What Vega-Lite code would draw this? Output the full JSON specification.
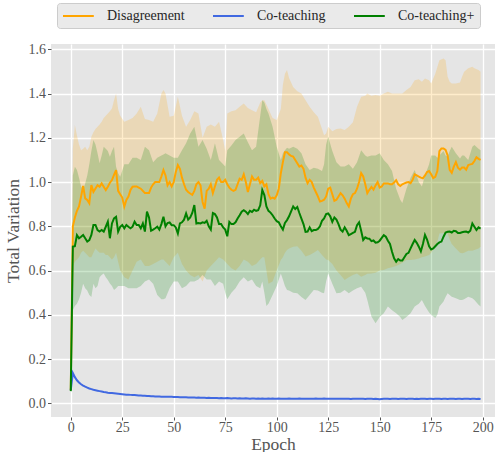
{
"$schema": "https://vega.github.io/schema/vega-lite/v6.json",
"width": 444, "height": 373,
"autosize": {"type": "none"},
"padding": {"left": 51, "top": 44, "right": 3, "bottom": 35},
"background": "#FFFFFF",
"config": {
 "view": {"fill": "#E5E5E5", "stroke": null},
 "axis": {"labelFont": "Liberation Serif", "labelFontSize": 14, "labelColor": "#555555", "titleFont": "Liberation Serif", "titleFontSize": 17.5, "titleFontWeight": "normal", "titleColor": "#555555", "gridColor": "#FFFFFF", "gridWidth": 1.3, "domain": false, "tickColor": "#555555", "tickSize": 3.5, "tickWidth": 1, "labelPadding": 2},
 "legend": {"orient": "none", "legendX": 6, "legendY": -41, "direction": "horizontal", "title": null, "symbolType": "M-2.2,0H2.2", "symbolSize": 196, "symbolStrokeWidth": 2, "symbolOffset": 8.4, "labelOffset": 20.6, "columnPadding": 23, "padding": 5, "labelFont": "Liberation Serif", "labelFontSize": 14, "labelColor": "#262626", "fillColor": "#EAEAEA", "strokeColor": "#CCCCCC", "cornerRadius": 3}
},
"datasets": {
 "lines": [
{"e":0,"d":0.06,"c":0.06,"p":0.055},{"e":1,"d":0.80,"c":0.137,"p":0.708},{"e":2,"d":0.84,"c":0.118,"p":0.71},{"e":3,"d":0.87,"c":0.104,"p":0.76},{"e":4,"d":0.89,"c":0.094,"p":0.746},{"e":5,"d":0.934,"c":0.086,"p":0.753},{"e":6,"d":0.982,"c":0.080,"p":0.761},{"e":7,"d":0.926,"c":0.075,"p":0.746},{"e":8,"d":0.919,"c":0.071,"p":0.731},{"e":9,"d":0.904,"c":0.067,"p":0.738},
{"e":10,"d":0.986,"c":0.064,"p":0.761},{"e":11,"d":0.956,"c":0.061,"p":0.806},{"e":12,"d":0.971,"c":0.059,"p":0.806},{"e":13,"d":0.986,"c":0.057,"p":0.783},{"e":14,"d":0.979,"c":0.055,"p":0.776},{"e":15,"d":0.994,"c":0.053,"p":0.783},{"e":16,"d":0.979,"c":0.051,"p":0.776},{"e":17,"d":0.964,"c":0.050,"p":0.798},{"e":18,"d":0.979,"c":0.048,"p":0.821},{"e":19,"d":0.997,"c":0.047,"p":0.746},
{"e":20,"d":1.009,"c":0.046,"p":0.813},{"e":21,"d":1.032,"c":0.045,"p":0.836},{"e":22,"d":1.054,"c":0.044,"p":0.843},{"e":23,"d":0.96,"c":0.043,"p":0.776},{"e":24,"d":0.945,"c":0.042,"p":0.798},{"e":25,"d":0.93,"c":0.041,"p":0.806},{"e":26,"d":0.889,"c":0.040,"p":0.791},{"e":27,"d":0.919,"c":0.039,"p":0.806},{"e":28,"d":0.934,"c":0.039,"p":0.798},{"e":29,"d":0.964,"c":0.038,"p":0.791},
{"e":30,"d":0.979,"c":0.037,"p":0.798},{"e":31,"d":0.98,"c":0.037,"p":0.821},{"e":32,"d":0.98,"c":0.036,"p":0.806},{"e":33,"d":0.975,"c":0.035,"p":0.806},{"e":34,"d":0.97,"c":0.035,"p":0.791},{"e":35,"d":0.96,"c":0.034,"p":0.813},{"e":36,"d":0.95,"c":0.034,"p":0.776},{"e":37,"d":0.95,"c":0.033,"p":0.866},{"e":38,"d":0.95,"c":0.033,"p":0.84},{"e":39,"d":0.975,"c":0.032,"p":0.78},
{"e":40,"d":0.99,"c":0.032,"p":0.785},{"e":41,"d":1.0,"c":0.031,"p":0.791},{"e":42,"d":1.0,"c":0.031,"p":0.798},{"e":43,"d":1.0,"c":0.031,"p":0.785},{"e":44,"d":1.025,"c":0.030,"p":0.81},{"e":45,"d":1.054,"c":0.030,"p":0.843},{"e":46,"d":1.03,"c":0.030,"p":0.8},{"e":47,"d":0.985,"c":0.029,"p":0.815},{"e":48,"d":1.0,"c":0.029,"p":0.818},{"e":49,"d":0.98,"c":0.029,"p":0.805},
{"e":50,"d":1.0,"c":0.028,"p":0.805},{"e":51,"d":1.045,"c":0.028,"p":0.795},{"e":52,"d":1.077,"c":0.028,"p":0.768},{"e":53,"d":1.06,"c":0.027,"p":0.813},{"e":54,"d":1.02,"c":0.027,"p":0.818},{"e":55,"d":0.99,"c":0.027,"p":0.83},{"e":56,"d":0.965,"c":0.027,"p":0.858},{"e":57,"d":0.955,"c":0.026,"p":0.83},{"e":58,"d":0.948,"c":0.026,"p":0.84},{"e":59,"d":0.942,"c":0.026,"p":0.86},
{"e":60,"d":0.96,"c":0.026,"p":0.896},{"e":61,"d":0.99,"c":0.025,"p":0.813},{"e":62,"d":1.0,"c":0.026,"p":0.815},{"e":63,"d":0.985,"c":0.025,"p":0.813},{"e":64,"d":0.91,"c":0.025,"p":0.818},{"e":65,"d":0.88,"c":0.025,"p":0.815},{"e":66,"d":0.96,"c":0.024,"p":0.825},{"e":67,"d":0.97,"c":0.025,"p":0.80},{"e":68,"d":0.99,"c":0.024,"p":0.785},{"e":69,"d":0.95,"c":0.024,"p":0.86},
{"e":70,"d":0.98,"c":0.024,"p":0.855},{"e":71,"d":1.01,"c":0.024,"p":0.84},{"e":72,"d":1.02,"c":0.023,"p":0.81},{"e":73,"d":1.0,"c":0.024,"p":0.81},{"e":74,"d":1.0,"c":0.023,"p":0.795},{"e":75,"d":1.01,"c":0.023,"p":0.785},{"e":76,"d":0.99,"c":0.024,"p":0.755},{"e":77,"d":0.975,"c":0.023,"p":0.82},{"e":78,"d":0.965,"c":0.022,"p":0.81},{"e":79,"d":0.96,"c":0.023,"p":0.81},
{"e":80,"d":0.965,"c":0.023,"p":0.818},{"e":81,"d":0.99,"c":0.022,"p":0.835},{"e":82,"d":1.015,"c":0.023,"p":0.85},{"e":83,"d":1.01,"c":0.022,"p":0.866},{"e":84,"d":1.035,"c":0.022,"p":0.873},{"e":85,"d":1.0,"c":0.023,"p":0.866},{"e":86,"d":0.955,"c":0.022,"p":0.855},{"e":87,"d":0.99,"c":0.021,"p":0.87},{"e":88,"d":1.025,"c":0.022,"p":0.865},{"e":89,"d":1.01,"c":0.022,"p":0.875},
{"e":90,"d":1.01,"c":0.021,"p":0.87},{"e":91,"d":1.02,"c":0.022,"p":0.873},{"e":92,"d":0.995,"c":0.021,"p":0.895},{"e":93,"d":1.005,"c":0.022,"p":0.964},{"e":94,"d":0.98,"c":0.021,"p":0.941},{"e":95,"d":0.99,"c":0.021,"p":0.89},{"e":96,"d":0.945,"c":0.022,"p":0.87},{"e":97,"d":0.925,"c":0.021,"p":0.862},{"e":98,"d":0.93,"c":0.022,"p":0.85},{"e":99,"d":0.925,"c":0.021,"p":0.835},
{"e":100,"d":0.94,"c":0.021,"p":0.823},{"e":101,"d":0.97,"c":0.022,"p":0.818},{"e":102,"d":1.04,"c":0.021,"p":0.8},{"e":103,"d":1.09,"c":0.020,"p":0.785},{"e":104,"d":1.135,"c":0.021,"p":0.815},{"e":105,"d":1.135,"c":0.021,"p":0.828},{"e":106,"d":1.125,"c":0.022,"p":0.845},{"e":107,"d":1.118,"c":0.021,"p":0.868},{"e":108,"d":1.115,"c":0.020,"p":0.89},{"e":109,"d":1.10,"c":0.021,"p":0.878},
{"e":110,"d":1.085,"c":0.021,"p":0.887},{"e":111,"d":1.07,"c":0.022,"p":0.86},{"e":112,"d":1.075,"c":0.021,"p":0.835},{"e":113,"d":1.06,"c":0.021,"p":0.81},{"e":114,"d":1.02,"c":0.020,"p":0.775},{"e":115,"d":0.995,"c":0.021,"p":0.776},{"e":116,"d":1.01,"c":0.021,"p":0.795},{"e":117,"d":1.0,"c":0.020,"p":0.778},{"e":118,"d":0.975,"c":0.021,"p":0.783},{"e":119,"d":0.955,"c":0.022,"p":0.783},
{"e":120,"d":0.935,"c":0.021,"p":0.788},{"e":121,"d":0.912,"c":0.020,"p":0.8},{"e":122,"d":0.915,"c":0.021,"p":0.825},{"e":123,"d":0.92,"c":0.022,"p":0.836},{"e":124,"d":0.935,"c":0.021,"p":0.855},{"e":125,"d":0.97,"c":0.020,"p":0.858},{"e":126,"d":0.975,"c":0.021,"p":0.845},{"e":127,"d":0.945,"c":0.021,"p":0.82},{"e":128,"d":0.915,"c":0.020,"p":0.84},{"e":129,"d":0.92,"c":0.021,"p":0.83},
{"e":130,"d":0.935,"c":0.020,"p":0.81},{"e":131,"d":0.95,"c":0.021,"p":0.785},{"e":132,"d":0.94,"c":0.021,"p":0.776},{"e":133,"d":0.925,"c":0.020,"p":0.795},{"e":134,"d":0.905,"c":0.021,"p":0.78},{"e":135,"d":0.89,"c":0.020,"p":0.76},{"e":136,"d":0.925,"c":0.019,"p":0.765},{"e":137,"d":0.945,"c":0.020,"p":0.77},{"e":138,"d":0.95,"c":0.021,"p":0.775},{"e":139,"d":0.97,"c":0.020,"p":0.805},
{"e":140,"d":1.0,"c":0.020,"p":0.818},{"e":141,"d":1.04,"c":0.021,"p":0.78},{"e":142,"d":1.025,"c":0.020,"p":0.738},{"e":143,"d":0.99,"c":0.019,"p":0.75},{"e":144,"d":0.95,"c":0.020,"p":0.745},{"e":145,"d":0.965,"c":0.021,"p":0.744},{"e":146,"d":0.978,"c":0.020,"p":0.733},{"e":147,"d":0.966,"c":0.019,"p":0.736},{"e":148,"d":0.985,"c":0.020,"p":0.726},{"e":149,"d":1.0,"c":0.019,"p":0.728},
{"e":150,"d":0.975,"c":0.018,"p":0.735},{"e":151,"d":0.98,"c":0.019,"p":0.748},{"e":152,"d":0.994,"c":0.020,"p":0.76},{"e":153,"d":0.994,"c":0.021,"p":0.753},{"e":154,"d":0.994,"c":0.020,"p":0.735},{"e":155,"d":0.99,"c":0.019,"p":0.72},{"e":156,"d":0.99,"c":0.020,"p":0.685},{"e":157,"d":0.998,"c":0.021,"p":0.655},{"e":158,"d":1.008,"c":0.020,"p":0.64},{"e":159,"d":0.99,"c":0.019,"p":0.652},
{"e":160,"d":0.982,"c":0.020,"p":0.645},{"e":161,"d":0.99,"c":0.021,"p":0.645},{"e":162,"d":0.994,"c":0.020,"p":0.66},{"e":163,"d":0.998,"c":0.019,"p":0.675},{"e":164,"d":1.0,"c":0.020,"p":0.68},{"e":165,"d":0.995,"c":0.021,"p":0.7},{"e":166,"d":1.01,"c":0.020,"p":0.72},{"e":167,"d":1.035,"c":0.019,"p":0.738},{"e":168,"d":1.03,"c":0.020,"p":0.725},{"e":169,"d":1.025,"c":0.019,"p":0.708},
{"e":170,"d":1.02,"c":0.020,"p":0.687},{"e":171,"d":1.017,"c":0.021,"p":0.72},{"e":172,"d":1.03,"c":0.020,"p":0.761},{"e":173,"d":1.045,"c":0.019,"p":0.74},{"e":174,"d":1.05,"c":0.020,"p":0.71},{"e":175,"d":1.035,"c":0.020,"p":0.695},{"e":176,"d":1.018,"c":0.019,"p":0.70},{"e":177,"d":1.024,"c":0.020,"p":0.71},{"e":178,"d":1.05,"c":0.021,"p":0.72},{"e":179,"d":1.14,"c":0.020,"p":0.727},
{"e":180,"d":1.152,"c":0.019,"p":0.731},{"e":181,"d":1.152,"c":0.020,"p":0.753},{"e":182,"d":1.145,"c":0.020,"p":0.772},{"e":183,"d":1.12,"c":0.019,"p":0.775},{"e":184,"d":1.055,"c":0.020,"p":0.776},{"e":185,"d":1.042,"c":0.021,"p":0.772},{"e":186,"d":1.07,"c":0.020,"p":0.78},{"e":187,"d":1.09,"c":0.019,"p":0.778},{"e":188,"d":1.065,"c":0.020,"p":0.77},{"e":189,"d":1.056,"c":0.020,"p":0.77},
{"e":190,"d":1.066,"c":0.019,"p":0.773},{"e":191,"d":1.066,"c":0.020,"p":0.775},{"e":192,"d":1.056,"c":0.021,"p":0.776},{"e":193,"d":1.077,"c":0.020,"p":0.772},{"e":194,"d":1.08,"c":0.019,"p":0.78},{"e":195,"d":1.082,"c":0.020,"p":0.813},{"e":196,"d":1.095,"c":0.020,"p":0.798},{"e":197,"d":1.112,"c":0.019,"p":0.783},{"e":198,"d":1.105,"c":0.020,"p":0.795},{"e":199,"d":1.1,"c":0.019,"p":0.79}
 ],
 "bands": [
{"e":0,"dhi":0.06,"phi":0.06,"plo":0.05,"dlo":0.06},{"e":1,"dhi":1.15,"phi":1.03,"plo":0.42,"dlo":0.62},{"e":2,"dhi":1.258,"phi":1.069,"plo":0.44,"dlo":0.64},{"e":3,"dhi":1.21,"phi":1.054,"plo":0.45,"dlo":0.65},{"e":4,"dhi":1.17,"phi":1.02,"plo":0.47,"dlo":0.66},{"e":5,"dhi":1.144,"phi":0.98,"plo":0.5,"dlo":0.68},{"e":6,"dhi":1.15,"phi":0.965,"plo":0.54,"dlo":0.69},{"e":7,"dhi":1.16,"phi":0.994,"plo":0.52,"dlo":0.68},{"e":8,"dhi":1.144,"phi":1.03,"plo":0.51,"dlo":0.67},{"e":9,"dhi":1.16,"phi":1.08,"plo":0.49,"dlo":0.66},
{"e":10,"dhi":1.205,"phi":1.14,"plo":0.48,"dlo":0.66},{"e":11,"dhi":1.225,"phi":1.19,"plo":0.54,"dlo":0.68},{"e":12,"dhi":1.24,"phi":1.17,"plo":0.52,"dlo":0.7},{"e":13,"dhi":1.25,"phi":1.13,"plo":0.53,"dlo":0.69},{"e":14,"dhi":1.26,"phi":1.085,"plo":0.57,"dlo":0.68},{"e":15,"dhi":1.273,"phi":1.12,"plo":0.58,"dlo":0.68},{"e":16,"dhi":1.29,"phi":1.16,"plo":0.587,"dlo":0.68},{"e":17,"dhi":1.30,"phi":1.15,"plo":0.57,"dlo":0.67},{"e":18,"dhi":1.31,"phi":1.14,"plo":0.557,"dlo":0.67},{"e":19,"dhi":1.32,"phi":1.114,"plo":0.542,"dlo":0.66},
{"e":20,"dhi":1.333,"phi":1.14,"plo":0.53,"dlo":0.65},{"e":21,"dhi":1.37,"phi":1.16,"plo":0.512,"dlo":0.66},{"e":22,"dhi":1.40,"phi":1.069,"plo":0.52,"dlo":0.68},{"e":23,"dhi":1.33,"phi":1.04,"plo":0.53,"dlo":0.64},{"e":24,"dhi":1.30,"phi":1.024,"plo":0.53,"dlo":0.6},{"e":26,"dhi":1.273,"phi":1.08,"plo":0.53,"dlo":0.57},{"e":28,"dhi":1.28,"phi":1.08,"plo":0.52,"dlo":0.56},{"e":30,"dhi":1.29,"phi":1.11,"plo":0.52,"dlo":0.6},{"e":32,"dhi":1.31,"phi":1.11,"plo":0.52,"dlo":0.64},{"e":34,"dhi":1.34,"phi":1.10,"plo":0.53,"dlo":0.65},
{"e":36,"dhi":1.285,"phi":1.16,"plo":0.55,"dlo":0.62},{"e":38,"dhi":1.28,"phi":1.144,"plo":0.56,"dlo":0.62},{"e":40,"dhi":1.273,"phi":1.09,"plo":0.54,"dlo":0.63},{"e":42,"dhi":1.31,"phi":1.11,"plo":0.49,"dlo":0.64},{"e":44,"dhi":1.40,"phi":1.12,"plo":0.47,"dlo":0.65},{"e":45,"dhi":1.416,"phi":1.125,"plo":0.47,"dlo":0.65},{"e":46,"dhi":1.40,"phi":1.13,"plo":0.475,"dlo":0.64},{"e":48,"dhi":1.295,"phi":1.12,"plo":0.52,"dlo":0.62},{"e":50,"dhi":1.30,"phi":1.11,"plo":0.55,"dlo":0.66},{"e":52,"dhi":1.386,"phi":1.11,"plo":0.55,"dlo":0.68},
{"e":54,"dhi":1.30,"phi":1.144,"plo":0.52,"dlo":0.63},{"e":56,"dhi":1.25,"phi":1.175,"plo":0.53,"dlo":0.6},{"e":58,"dhi":1.28,"phi":1.22,"plo":0.55,"dlo":0.58},{"e":60,"dhi":1.32,"phi":1.25,"plo":0.55,"dlo":0.57},{"e":62,"dhi":1.31,"phi":1.16,"plo":0.56,"dlo":0.58},{"e":64,"dhi":1.20,"phi":1.19,"plo":0.58,"dlo":0.55},{"e":66,"dhi":1.25,"phi":1.15,"plo":0.56,"dlo":0.6},{"e":68,"dhi":1.26,"phi":1.10,"plo":0.56,"dlo":0.62},{"e":70,"dhi":1.25,"phi":1.175,"plo":0.53,"dlo":0.64},{"e":72,"dhi":1.273,"phi":1.10,"plo":0.55,"dlo":0.66},
{"e":74,"dhi":1.19,"phi":1.08,"plo":0.54,"dlo":0.65},{"e":75,"dhi":1.14,"phi":1.07,"plo":0.5,"dlo":0.64},{"e":76,"dhi":1.31,"phi":1.144,"plo":0.47,"dlo":0.63},{"e":78,"dhi":1.32,"phi":1.165,"plo":0.5,"dlo":0.61},{"e":80,"dhi":1.325,"phi":1.19,"plo":0.52,"dlo":0.6},{"e":82,"dhi":1.34,"phi":1.205,"plo":0.55,"dlo":0.62},{"e":84,"dhi":1.355,"phi":1.22,"plo":0.57,"dlo":0.65},{"e":86,"dhi":1.335,"phi":1.18,"plo":0.55,"dlo":0.64},{"e":88,"dhi":1.325,"phi":1.144,"plo":0.56,"dlo":0.62},{"e":90,"dhi":1.315,"phi":1.16,"plo":0.53,"dlo":0.63},
{"e":92,"dhi":1.36,"phi":1.30,"plo":0.52,"dlo":0.65},{"e":93,"dhi":1.37,"phi":1.37,"plo":0.55,"dlo":0.66},{"e":94,"dhi":1.37,"phi":1.36,"plo":0.5,"dlo":0.66},{"e":95,"dhi":1.35,"phi":1.33,"plo":0.44,"dlo":0.6},{"e":96,"dhi":1.33,"phi":1.31,"plo":0.45,"dlo":0.54},{"e":98,"dhi":1.29,"phi":1.25,"plo":0.49,"dlo":0.55},{"e":100,"dhi":1.28,"phi":1.16,"plo":0.53,"dlo":0.6},{"e":102,"dhi":1.33,"phi":1.10,"plo":0.587,"dlo":0.648},{"e":103,"dhi":1.44,"phi":1.13,"plo":0.56,"dlo":0.66},{"e":104,"dhi":1.49,"phi":1.144,"plo":0.53,"dlo":0.68},
{"e":105,"dhi":1.506,"phi":1.155,"plo":0.512,"dlo":0.693},{"e":106,"dhi":1.47,"phi":1.15,"plo":0.51,"dlo":0.7},{"e":108,"dhi":1.43,"phi":1.16,"plo":0.5,"dlo":0.708},{"e":110,"dhi":1.41,"phi":1.15,"plo":0.497,"dlo":0.71},{"e":112,"dhi":1.40,"phi":1.13,"plo":0.48,"dlo":0.69},{"e":114,"dhi":1.37,"phi":1.08,"plo":0.467,"dlo":0.663},{"e":116,"dhi":1.34,"phi":1.054,"plo":0.49,"dlo":0.67},{"e":118,"dhi":1.315,"phi":1.065,"plo":0.512,"dlo":0.68},{"e":120,"dhi":1.295,"phi":1.06,"plo":0.51,"dlo":0.693},{"e":122,"dhi":1.24,"phi":1.05,"plo":0.5,"dlo":0.67},
{"e":123,"dhi":1.212,"phi":1.08,"plo":0.497,"dlo":0.66},{"e":124,"dhi":1.22,"phi":1.17,"plo":0.55,"dlo":0.65},{"e":125,"dhi":1.25,"phi":1.205,"plo":0.587,"dlo":0.648},{"e":127,"dhi":1.23,"phi":1.14,"plo":0.54,"dlo":0.63},{"e":129,"dhi":1.24,"phi":1.09,"plo":0.497,"dlo":0.6},{"e":131,"dhi":1.242,"phi":1.07,"plo":0.5,"dlo":0.58},{"e":133,"dhi":1.235,"phi":1.07,"plo":0.512,"dlo":0.557},{"e":135,"dhi":1.25,"phi":1.08,"plo":0.497,"dlo":0.57},{"e":137,"dhi":1.27,"phi":1.06,"plo":0.51,"dlo":0.58},{"e":139,"dhi":1.34,"phi":1.09,"plo":0.52,"dlo":0.587},
{"e":141,"dhi":1.386,"phi":1.144,"plo":0.527,"dlo":0.572},{"e":143,"dhi":1.39,"phi":1.12,"plo":0.5,"dlo":0.58},{"e":144,"dhi":1.40,"phi":1.114,"plo":0.467,"dlo":0.585},{"e":146,"dhi":1.39,"phi":1.12,"plo":0.392,"dlo":0.587},{"e":148,"dhi":1.393,"phi":1.12,"plo":0.362,"dlo":0.59},{"e":150,"dhi":1.39,"phi":1.13,"plo":0.39,"dlo":0.6},{"e":152,"dhi":1.40,"phi":1.10,"plo":0.407,"dlo":0.602},{"e":154,"dhi":1.408,"phi":1.08,"plo":0.437,"dlo":0.61},{"e":156,"dhi":1.40,"phi":1.05,"plo":0.42,"dlo":0.615},{"e":158,"dhi":1.40,"phi":0.97,"plo":0.407,"dlo":0.62},
{"e":160,"dhi":1.40,"phi":0.92,"plo":0.39,"dlo":0.63},{"e":161,"dhi":1.40,"phi":0.905,"plo":0.377,"dlo":0.635},{"e":163,"dhi":1.416,"phi":0.97,"plo":0.39,"dlo":0.648},{"e":165,"dhi":1.43,"phi":1.02,"plo":0.407,"dlo":0.648},{"e":167,"dhi":1.46,"phi":1.054,"plo":0.437,"dlo":0.65},{"e":169,"dhi":1.465,"phi":1.0,"plo":0.45,"dlo":0.655},{"e":170.5,"dhi":1.453,"phi":0.98,"plo":0.467,"dlo":0.66},{"e":172,"dhi":1.468,"phi":1.03,"plo":0.44,"dlo":0.663},{"e":174,"dhi":1.46,"phi":1.08,"plo":0.41,"dlo":0.67},{"e":175,"dhi":1.446,"phi":1.12,"plo":0.4,"dlo":0.68},
{"e":177,"dhi":1.49,"phi":1.12,"plo":0.385,"dlo":0.708},{"e":178,"dhi":1.52,"phi":1.11,"plo":0.4,"dlo":0.73},{"e":179,"dhi":1.55,"phi":1.12,"plo":0.437,"dlo":0.768},{"e":181,"dhi":1.559,"phi":1.14,"plo":0.46,"dlo":0.77},{"e":182,"dhi":1.55,"phi":1.12,"plo":0.48,"dlo":0.768},{"e":183,"dhi":1.476,"phi":1.114,"plo":0.497,"dlo":0.768},{"e":184,"dhi":1.453,"phi":1.14,"plo":0.49,"dlo":0.74},{"e":185,"dhi":1.446,"phi":1.16,"plo":0.482,"dlo":0.72},{"e":187,"dhi":1.446,"phi":1.13,"plo":0.475,"dlo":0.7},{"e":189,"dhi":1.45,"phi":1.107,"plo":0.467,"dlo":0.68},
{"e":190,"dhi":1.476,"phi":1.12,"plo":0.467,"dlo":0.678},{"e":191,"dhi":1.499,"phi":1.12,"plo":0.47,"dlo":0.68},{"e":193,"dhi":1.514,"phi":1.10,"plo":0.482,"dlo":0.69},{"e":195,"dhi":1.521,"phi":1.16,"plo":0.475,"dlo":0.69},{"e":196,"dhi":1.514,"phi":1.167,"plo":0.467,"dlo":0.693},{"e":198,"dhi":1.506,"phi":1.15,"plo":0.445,"dlo":0.7},{"e":199,"dhi":1.499,"phi":1.144,"plo":0.437,"dlo":0.708}
 ]
},
"layer": [
 {"data": {"name": "bands"}, "mark": {"type": "area", "color": "#FFA500", "opacity": 0.2},
  "encoding": {
   "x": {"field": "e", "type": "quantitative", "scale": {"domain": [-9.6, 206], "nice": false, "zero": false}, "axis": {"values": [0,25,50,75,100,125,150,175,200], "title": "Epoch", "tickSize": 3, "labelPadding": 0, "titlePadding": 1}},
   "y": {"field": "dlo", "type": "quantitative", "scale": {"domain": [-0.062, 1.624], "nice": false, "zero": false}, "axis": {"values": [0,0.2,0.4,0.6,0.8,1.0,1.2,1.4,1.6], "format": ".1f", "title": "Total Variation", "titlePadding": 6}},
   "y2": {"field": "dhi"}}},
 {"data": {"name": "bands"}, "mark": {"type": "area", "color": "#008000", "opacity": 0.2},
  "encoding": {
   "x": {"field": "e", "type": "quantitative"},
   "y": {"field": "plo", "type": "quantitative"},
   "y2": {"field": "phi"}}},
 {"data": {"name": "lines"}, "mark": {"type": "line", "strokeWidth": 2},
  "encoding": {
   "x": {"field": "e", "type": "quantitative"},
   "y": {"field": "d", "type": "quantitative"},
   "color": {"datum": "Disagreement", "type": "nominal", "scale": {"domain": ["Disagreement", "Co-teaching", "Co-teaching+"], "range": ["#FFA500", "#4169E1", "#008000"]}}}},
 {"data": {"name": "lines"}, "mark": {"type": "line", "strokeWidth": 2},
  "encoding": {
   "x": {"field": "e", "type": "quantitative"},
   "y": {"field": "c", "type": "quantitative"},
   "color": {"datum": "Co-teaching", "type": "nominal"}}},
 {"data": {"name": "lines"}, "mark": {"type": "line", "strokeWidth": 2},
  "encoding": {
   "x": {"field": "e", "type": "quantitative"},
   "y": {"field": "p", "type": "quantitative"},
   "color": {"datum": "Co-teaching+", "type": "nominal"}}}
]
}
